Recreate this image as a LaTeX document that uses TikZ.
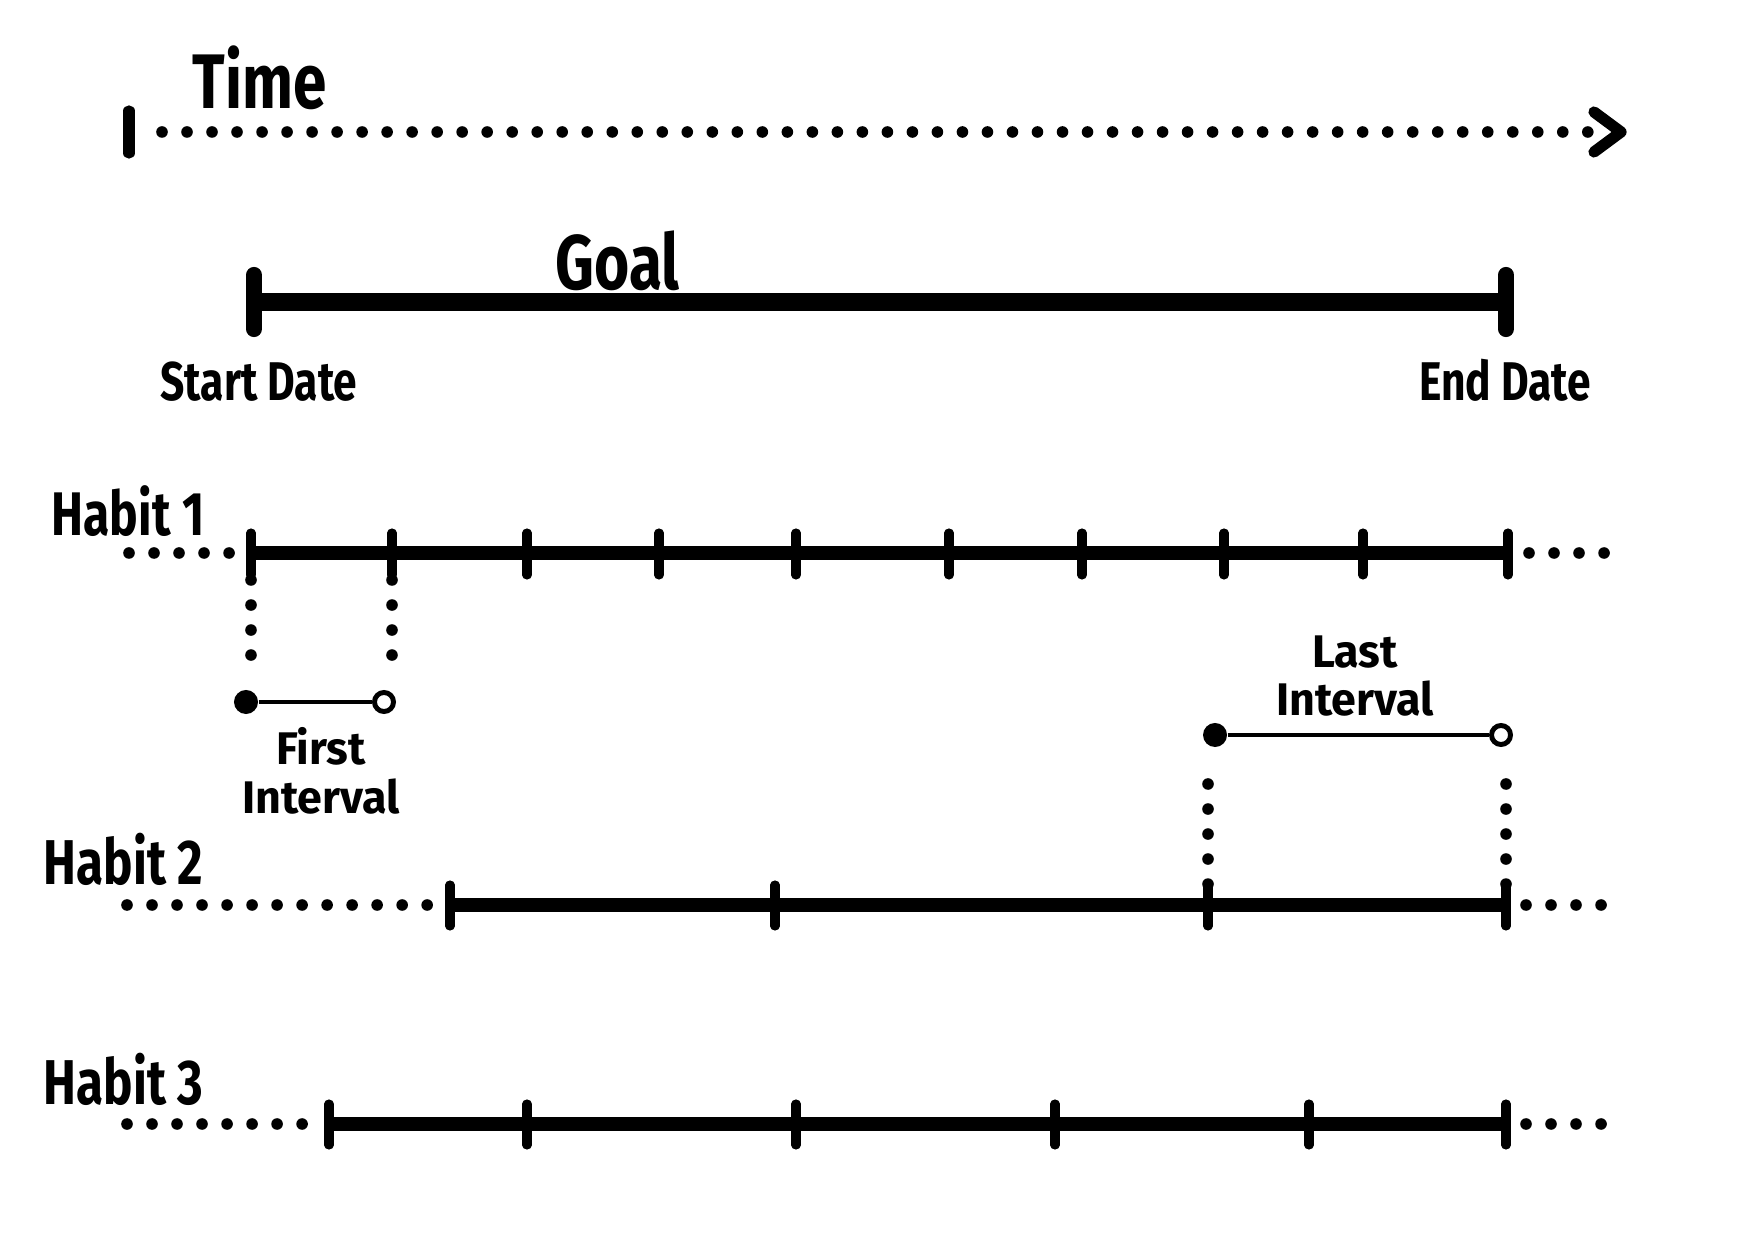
\documentclass[tikz,border=0pt]{standalone}
\usepackage{fontspec}
\newfontfamily\handfont{Fira Sans}[FakeStretch=0.78]
\newfontfamily\handwide{Fira Sans}[FakeStretch=0.98]
\tikzset{
	hand/.style={inner sep=0pt, font=\handfont\bfseries\fontsize{#1}{\dimexpr#1*106/100\relax}\selectfont},
	handw/.style={inner sep=0pt, font=\handwide\bfseries\fontsize{#1}{\dimexpr#1*106/100\relax}\selectfont},
	dotline/.style={line width=3.3pt, line cap=round, dash pattern=on 0pt off 7.113pt},
	bar/.style={line width=#1, line cap=round},
	dotfull/.style={circle, fill, inner sep=0pt, minimum size=0.24cm},
	dotopen/.style={circle, draw, line width=1.4pt, fill=white, inner sep=0pt, minimum size=0.19cm},
}
\begin{document}
\begin{tikzpicture}[x=0.01cm, y=-0.01cm]
		\useasboundingbox (0,0) rectangle (1748,1240);
		\begin{scope}
			\coordinate (T0) at (129, 132);
			\coordinate (T1) at (162, 132);
			\coordinate (T2) at (1589, 132);
			\coordinate (T3) at (1621, 132);
			
			\node [hand=22pt, anchor=base west] (time) at (192, 109) {Time};
			\draw [bar=3.2pt] (T0) ++(0,-21) -- ++(0,42);
			\draw [dotline] (T1) -- (T2);
			\draw [bar=3.2pt, line join=round] (1594, 112) -- (T3) -- (1594, 152);
		\end{scope}
		\begin{scope}
			\coordinate (G0) at (254, 302);
			\coordinate (G1) at (1506, 302);
			
			\node [hand=22pt, anchor=base west] (goal) at (555, 290) {Goal};
			\draw [line width=5.1pt] (G0) -- (G1);
			\draw [bar=4.6pt] (G0) ++(0,-27) -- ++(0,54);
			\draw [bar=4.6pt] (G1) ++(0,-27) -- ++(0,54);
			\node [hand=15.5pt, anchor=base] (start) at (259, 401) {Start Date};
			\node [hand=15.5pt, anchor=base] (end) at (1505, 401) {End Date};
		\end{scope}
		\begin{scope}
			\coordinate (H1a) at (129, 553);
			\coordinate (H1b) at (251, 553);
			\coordinate (H1c) at (1508, 553);
			\coordinate (H1d) at (1606, 553);
			
			\node [hand=17.5pt, anchor=base west] (habit1) at (51, 536) {Habit 1};
			\draw [dotline] (H1a) -- (231, 553);
			\draw [line width=3.8pt] (H1b) -- (H1c);
			\draw [dotline] (1529, 553) -- (H1d);
			\foreach \x in {251, 392, 527, 659, 796, 949, 1082, 1224, 1363, 1508}
				\draw [bar=2.6pt] (\x, 533) -- (\x, 575);
			\draw [dotline] (251, 580) -- (251, 657);
			\draw [dotline] (392, 580) -- (392, 657);
			
			\node [dotfull] (F0) at (246, 702) {};
			\node [dotopen] (F1) at (384, 702) {};
			\draw [line width=1.4pt] (F0) -- (F1);
			\node [handw=13pt, align=center] (first) at (321, 771) {First\\Interval};
		\end{scope}
		\begin{scope}
			\coordinate (H2a) at (127, 905);
			\coordinate (H2b) at (450, 905);
			\coordinate (H2c) at (1506, 905);
			\coordinate (H2d) at (1604, 905);
			
			\node [hand=18pt, anchor=base west] (habit2) at (43, 885) {Habit 2};
			\draw [dotline] (H2a) -- (430, 905);
			\draw [line width=3.8pt] (H2b) -- (H2c);
			\draw [dotline] (1526, 905) -- (H2d);
			\foreach \x in {450, 775, 1208, 1506}
				\draw [bar=2.6pt] (\x, 885) -- (\x, 926);
			\draw [dotline] (1208, 784) -- (1208, 886);
			\draw [dotline] (1506, 784) -- (1506, 886);
			
			\node [dotfull] (L0) at (1215, 735) {};
			\node [dotopen] (L1) at (1501, 735) {};
			\draw [line width=1.4pt] (L0) -- (L1);
			\node [handw=13pt, align=center] (last) at (1355, 676) {Last\\Interval};
		\end{scope}
		\begin{scope}
			\coordinate (H3a) at (127, 1124);
			\coordinate (H3b) at (329, 1124);
			\coordinate (H3c) at (1506, 1124);
			\coordinate (H3d) at (1604, 1124);
			
			\node [hand=18pt, anchor=base west] (habit3) at (43, 1104) {Habit 3};
			\draw [dotline] (H3a) -- (305, 1124);
			\draw [line width=3.8pt] (H3b) -- (H3c);
			\draw [dotline] (1526, 1124) -- (H3d);
			\foreach \x in {329, 527, 796, 1055, 1309, 1506}
				\draw [bar=2.6pt] (\x, 1104) -- (\x, 1145);
		\end{scope}
	\end{tikzpicture}
\end{document}
